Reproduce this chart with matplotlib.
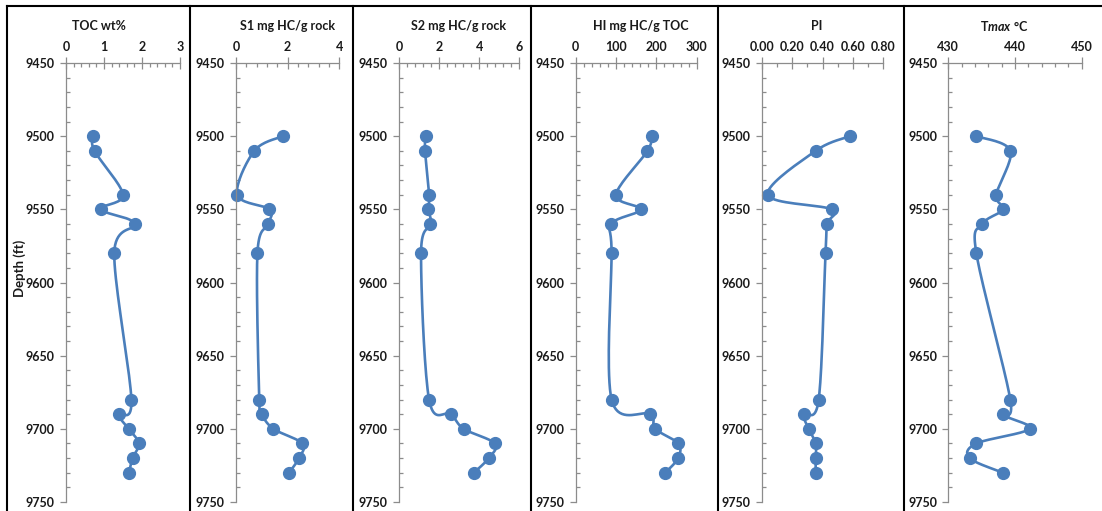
import numpy as np
import matplotlib.pyplot as plt
from matplotlib.ticker import MultipleLocator, FormatStrFormatter
from matplotlib.lines import Line2D

plt.rcParams['font.family'] = ['Lato', 'DejaVu Sans']
plt.rcParams['mathtext.fontset'] = 'custom'
plt.rcParams['mathtext.rm'] = 'Lato:bold'
plt.rcParams['mathtext.it'] = 'Lato:italic:bold'

# Probentiefen (ft)
depth = [9500, 9510, 9540, 9550, 9560, 9580, 9680, 9690, 9700, 9710, 9720, 9730]

# Rock-Eval Ergebnisse
toc = [0.72, 0.75, 1.50, 0.92, 1.81, 1.27, 1.72, 1.40, 1.65, 1.92, 1.75, 1.66]
s1 = [1.81, 0.71, 0.05, 1.29, 1.25, 0.83, 0.90, 1.00, 1.45, 2.57, 2.44, 2.05]
s2 = [1.33, 1.30, 1.50, 1.47, 1.57, 1.10, 1.50, 2.58, 3.23, 4.78, 4.48, 3.73]
hi = [188, 178, 100, 161, 88, 89, 89, 184, 197, 254, 254, 222]
pi = [0.58, 0.355, 0.04, 0.46, 0.43, 0.42, 0.375, 0.28, 0.31, 0.355, 0.355, 0.355]
tmax = [434.2, 439.3, 437.2, 438.2, 435.1, 434.2, 439.3, 438.2, 442.2, 434.2, 433.2, 438.2]

titles = ['TOC wt%', 'S1 mg HC/g rock', 'S2 mg HC/g rock', 'HI mg HC/g TOC', 'PI',
          r'T$\mathit{max}$ °C']
series = [toc, s1, s2, hi, pi, tmax]
xlims = [(0, 3), (0, 4), (0, 6), (0, 300), (0, 0.8), (430, 450)]
major = [1, 2, 2, 100, 0.2, 10]
minor = [0.2, 0.4, 0.4, 20, 0.1, 2]
fmts = ['%d', '%d', '%d', '%d', '%.2f', '%d']

W, H = 1102, 511
# Achsenlage in Pixeln (links, rechts)
ax_px = [(66, 180), (236, 339.3), (399, 519.3), (575.7, 696.7), (761.7, 883.3), (948.3, 1081.7)]
title_px = [99, 288, 459, 641, 817, 1004]
y_top, y_bot = 63, 502
farbe = '#4a7ebb'
grau = '#8c8c8c'


def smooth(ax, x, y, n=20):
    # Kurve wie in Excel (Catmull-Rom) in Bildschirmkoordinaten glätten
    x0, x1 = ax.get_xlim()
    y0, y1 = ax.get_ylim()
    bb = ax.get_position()
    sx = bb.width * W / (x1 - x0)
    sy = bb.height * H / (y1 - y0)
    p = np.column_stack([(np.array(x) - x0) * sx, (np.array(y) - y0) * sy])
    p = np.vstack([p[0], p, p[-1]])
    pts = []
    t = np.linspace(0, 1, n)[:, None]
    for i in range(1, len(p) - 2):
        a, b, c, d = p[i - 1], p[i], p[i + 1], p[i + 2]
        c1 = b + (c - a) / 6
        c2 = c - (d - b) / 6
        seg = ((1 - t) ** 3) * b + 3 * ((1 - t) ** 2) * t * c1 + 3 * (1 - t) * t ** 2 * c2 + t ** 3 * c
        pts.append(seg)
    q = np.vstack(pts)
    return q[:, 0] / sx + x0, q[:, 1] / sy + y0


fig = plt.figure(figsize=(W / 100, H / 100), dpi=100)

for i in range(6):
    l, r = ax_px[i]
    ax = fig.add_axes([l / W, 1 - y_bot / H, (r - l) / W, (y_bot - y_top) / H])
    ax.set_xlim(*xlims[i])
    ax.set_ylim(9750, 9450)
    ax.xaxis.tick_top()
    for s in ['right', 'bottom']:
        ax.spines[s].set_visible(False)
    for s in ['left', 'top']:
        ax.spines[s].set_color(grau)
        ax.spines[s].set_linewidth(0.9)
    ax.xaxis.set_major_locator(MultipleLocator(major[i]))
    ax.xaxis.set_minor_locator(MultipleLocator(minor[i]))
    ax.xaxis.set_major_formatter(FormatStrFormatter(fmts[i]))
    ax.yaxis.set_major_locator(MultipleLocator(50))
    ax.yaxis.set_minor_locator(MultipleLocator(10))
    ax.tick_params(axis='x', which='major', direction='inout', length=8, width=0.9,
                   color=grau, pad=3, labelsize=9)
    ax.tick_params(axis='x', which='minor', direction='in', length=3, width=0.9, color=grau)
    ax.tick_params(axis='y', which='major', direction='out', length=4, width=0.9,
                   color=grau, pad=4, labelsize=9)
    ax.tick_params(axis='y', which='minor', direction='in', length=3, width=0.9, color=grau)
    for lab in ax.get_xticklabels() + ax.get_yticklabels():
        lab.set_fontweight('bold')
        lab.set_color('#1a1a1a')
    ax.patch.set_alpha(0)

    xs, ys = smooth(ax, series[i], depth)
    ax.plot(xs, ys, color=farbe, lw=1.9, clip_on=False)
    ax.plot(series[i], depth, 'o', color=farbe, ms=8.5, clip_on=False)

    fig.text(title_px[i] / W, 1 - 26 / H, titles[i], ha='center', va='center',
             fontsize=9, fontweight='bold', color='#1a1a1a')

fig.text(20 / W, 1 - 268 / H, 'Depth (ft)', rotation=90, ha='center', va='center',
         fontsize=9.5, fontweight='bold', color='#1a1a1a')

# Rahmen und Trennlinien zwischen den Spuren
fig.add_artist(Line2D([7 / W, 1], [1 - 6 / H] * 2, color='black', lw=1.5))
for xp in [7, 190, 353, 531, 718, 904]:
    fig.add_artist(Line2D([xp / W] * 2, [0, 1 - 6 / H], color='black', lw=1.5))

fig.savefig('out.png', dpi=100)
